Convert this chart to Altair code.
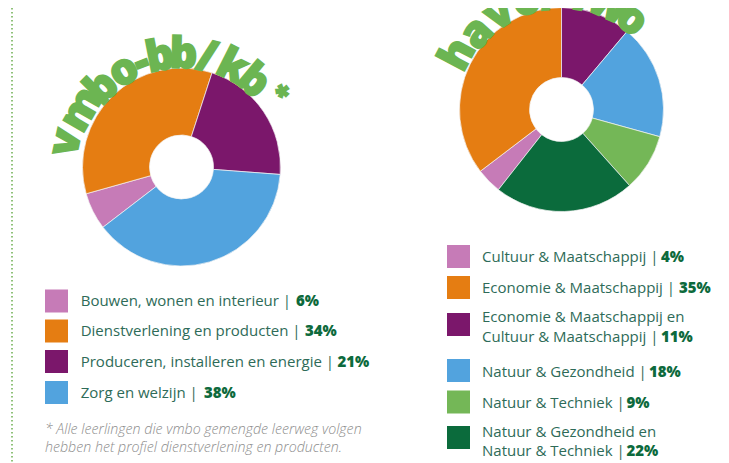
import math
import altair as alt
import pandas as pd

# ---------------- data ----------------
vmbo_categories = [
    "Bouwen, wonen en interieur",
    "Dienstverlening en producten",
    "Produceren, installeren en energie",
    "Zorg en welzijn",
]
vmbo_values = [6, 34, 21, 38]
vmbo_colors = ["#c67bb7", "#e57d12", "#7b176b", "#52a3de"]

havo_categories = [
    "Cultuur & Maatschappij",
    "Economie & Maatschappij",
    "Economie & Maatschappij en Cultuur & Maatschappij",
    "Natuur & Gezondheid",
    "Natuur & Techniek",
    "Natuur & Gezondheid en Natuur & Techniek",
]
havo_values = [4, 35, 11, 18, 9, 22]
havo_colors = ["#c67bb7", "#e57d12", "#7b176b", "#52a3de", "#74b757", "#0b6b3c"]

# legend lines (regular part per line; percentage follows the last line)
vmbo_legend_lines = [["Bouwen, wonen en interieur |"],
                     ["Dienstverlening en producten |"],
                     ["Produceren, installeren en energie |"],
                     ["Zorg en welzijn |"]]
havo_legend_lines = [["Cultuur & Maatschappij |"],
                     ["Economie & Maatschappij |"],
                     ["Economie & Maatschappij en", "Cultuur & Maatschappij |"],
                     ["Natuur & Gezondheid |"],
                     ["Natuur & Techniek |"],
                     ["Natuur & Gezondheid en", "Natuur & Techniek |"]]

footnote = ["* Alle leerlingen die vmbo gemengde leerweg volgen",
            "hebben het profiel dienstverlening en producten."]

vmbo_title = list("vmbo-bb/kb*")
vmbo_title_deg = [-78, -60, -45, -31, -21, -11, 1, 13, 27, 40, 53]
havo_title = list("havo/vwo")
havo_title_deg = [-62, -48, -33, -18, -6, 9, 24, 38]

# ---------------- layout ----------------
W, H = 713, 455
GREEN = "#6cb552"
TXT = "#2e6b58"
BOLD = "#0d6a3c"
FONT = "Open Sans"

L_CX, L_CY, L_RI, L_RO, L_START = 173.5, 159, 32, 99, 232.5
R_CX, R_CY, R_RI, R_RO, R_START = 553.5, 101.5, 32, 102, 218.2

left_title_roff = [6, 3, 0, 0, 0, 0, 0, 0, 0, 0, 14]
right_title_roff = [3, 0, 0, 0, 0, 0, 0, 0]

left_sq_y = [293, 323, 353.5, 384.5]
left_sq_x = 48.5
left_txt_x = 72.7
left_pct_x = [288, 297, 329.5, 196]

right_sq_y = [248.5, 279.5, 316.5, 362.5, 394, 429.5]
right_sq_x = 450.5
right_txt_x = 474
right_line_y = [[249], [280], [308.5, 329], [364], [395], [423.5, 442.5]]
right_pct_x = [653, 671, 653, 641, 618.5, 618.5]


def donut(cats, vals, colors, cx, cy, ri, ro, start_deg):
    df = pd.DataFrame({"cat": cats, "value": vals, "ord": list(range(len(cats)))})
    s = math.radians(start_deg)
    return alt.Chart(df).mark_arc(innerRadius=ri, outerRadius=ro, stroke="#f4f4f4",
                                  strokeWidth=0.7).encode(
        theta=alt.Theta("value:Q", stack=True, scale=alt.Scale(range=[s, s + 2 * math.pi])),
        color=alt.Color("cat:N", scale=alt.Scale(domain=cats, range=colors), legend=None),
        order=alt.Order("ord:Q"),
        x=alt.value(cx),
        y=alt.value(cy),
    )


def curved_title(chars, degs, roffs, cx, cy, r):
    rows = []
    for ch, d, ro in zip(chars, degs, roffs):
        star = ch == "*"
        rows.append({"ch": ch, "rad": math.radians(d), "deg": d % 360,
                     "r": r + ro, "fs": 26 if star else 43})
    df = pd.DataFrame(rows)
    return alt.Chart(df).mark_text(font=FONT, fontWeight=800, color=GREEN, stroke=GREEN,
                                   strokeWidth=1.6, baseline="alphabetic", align="center").encode(
        text="ch:N",
        theta=alt.Theta("rad:Q", scale=None, stack=None),
        radius=alt.Radius("r:Q", scale=None),
        angle=alt.Angle("deg:Q", scale=None),
        size=alt.Size("fs:Q", scale=None, legend=None),
        x=alt.value(cx),
        y=alt.value(cy),
    )


# legend tables
sq_rows, txt_rows, pct_rows = [], [], []
for i, (c, v) in enumerate(zip(vmbo_categories, vmbo_values)):
    sq_rows.append({"x": left_sq_x, "y": left_sq_y[i], "col": vmbo_colors[i]})
    txt_rows.append({"x": left_txt_x, "y": left_sq_y[i], "t": vmbo_legend_lines[i][0]})
    pct_rows.append({"x": left_pct_x[i], "y": left_sq_y[i], "t": f"{v}%"})
for i, (c, v) in enumerate(zip(havo_categories, havo_values)):
    sq_rows.append({"x": right_sq_x, "y": right_sq_y[i], "col": havo_colors[i]})
    for line, yy in zip(havo_legend_lines[i], right_line_y[i]):
        txt_rows.append({"x": right_txt_x, "y": yy, "t": line})
    pct_rows.append({"x": right_pct_x[i], "y": right_line_y[i][-1], "t": f"{v}%"})

sq_df = pd.DataFrame(sq_rows)
txt_df = pd.DataFrame(txt_rows)
pct_df = pd.DataFrame(pct_rows)
foot_df = pd.DataFrame({"x": [37, 37], "y": [422, 440], "t": footnote})

X = lambda f: alt.X(f, scale=None, axis=None)
Y = lambda f: alt.Y(f, scale=None, axis=None)

squares = alt.Chart(sq_df).mark_square(size=529, opacity=1, filled=True).encode(
    x=X("x:Q"), y=Y("y:Q"), color=alt.Color("col:N", scale=None, legend=None))

legend_txt = alt.Chart(txt_df).mark_text(font=FONT, fontSize=15, color=TXT, align="left",
                                         baseline="middle").encode(
    x=X("x:Q"), y=Y("y:Q"), text="t:N")

legend_pct = alt.Chart(pct_df).mark_text(font=FONT, fontSize=15, fontWeight=800, color=BOLD,
                                         align="left", baseline="middle").encode(
    x=X("x:Q"), y=Y("y:Q"), text="t:N")

foot = alt.Chart(foot_df).mark_text(font=FONT, fontSize=14.2, fontStyle="italic", fontWeight=300,
                                    color="#8c8c8c", align="left", baseline="middle").encode(
    x=X("x:Q"), y=Y("y:Q"), text="t:N")

dotted = alt.Chart(pd.DataFrame({"a": [0]})).mark_rule(
    color="#8fc27a", strokeWidth=2, strokeDash=[1.5, 2.5]).encode(
    x=alt.value(4), y=alt.value(0), y2=alt.value(H))

chart = alt.layer(
    dotted,
    donut(vmbo_categories, vmbo_values, vmbo_colors, L_CX, L_CY, L_RI, L_RO, L_START),
    donut(havo_categories, havo_values, havo_colors, R_CX, R_CY, R_RI, R_RO, R_START),
    curved_title(vmbo_title, vmbo_title_deg, left_title_roff, L_CX, L_CY, 99),
    curved_title(havo_title, havo_title_deg, right_title_roff, R_CX, R_CY, 101),
    squares, legend_txt, legend_pct, foot,
).resolve_scale(theta="independent", color="independent").properties(
    width=W, height=H, padding=0, autosize=alt.AutoSizeParams(type="none")
).configure_view(stroke=None)

chart.save("out.html", embed_options={"renderer": "svg", "actions": False})
